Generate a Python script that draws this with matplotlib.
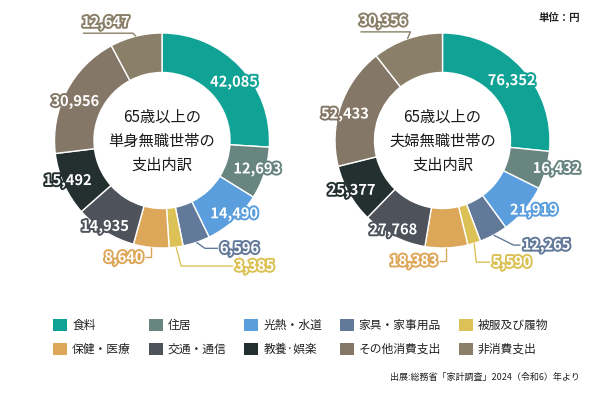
import matplotlib
matplotlib.use('Agg')
import matplotlib.pyplot as plt
import matplotlib.patheffects as pe
from matplotlib.patches import Patch
import numpy as np

plt.rcParams['font.family'] = ['Noto Sans CJK JP', 'DejaVu Sans']

# ---------------- data ----------------
categories = ['食料', '住居', '光熱・水道', '家具・家事用品', '被服及び履物',
              '保健・医療', '交通・通信', '教養·娯楽', 'その他消費支出', '非消費支出']
single_values = [42085, 12693, 14490, 6596, 3385, 8640, 14935, 15492, 30956, 12647]
couple_values = [76352, 16432, 21919, 12265, 5590, 18383, 27768, 25377, 52433, 30356]
single_title = '65歳以上の\n単身無職世帯の\n支出内訳'
couple_title = '65歳以上の\n夫婦無職世帯の\n支出内訳'
unit_label = '単位：円'
source_label = '出展:総務省「家計調査」2024（令和6）年より'

# ---------------- style / layout ----------------
colors = ['#10A395', '#68857F', '#5A9EDE', '#62799A', '#DCC256',
          '#DDA75A', '#4E525B', '#243030', '#857767', '#8A806A']
W, H = 602, 397
R_OUT, R_IN = 107.5, 68.0
LABEL_R = 100.0

# per-chart layout: centre, inside-label nudges, outside leader configs
layouts = [
    dict(center=(162, 140.5),
         nudge={0: (-1, 10), 1: (0, -2), 2: (5, -1), 6: (-4, 1), 7: (-3, -1), 8: (2, 7)},
         outer={3: (8.5, 6, 13), 4: (5, 19, 52), 5: (0, 10, -6), 9: (-3, -3, -50)}),
    dict(center=(442.5, 140.5),
         nudge={0: (-5, 7), 1: (18, 0), 2: (15, 5), 6: (-4, 0), 7: (-4, 0), 8: (-3, 6)},
         outer={3: (20, 10, 7), 4: (2, 19, 14), 5: (0, 13, -7), 9: (3, -7, -50)}),
]

fig = plt.figure(figsize=(W / 100, H / 100), dpi=100)
ax = fig.add_axes([0, 0, 1, 1])


def draw_donut(values, title, lay):
    cx, cy = lay['center']
    ax.pie(values, colors=colors, startangle=-90, counterclock=True,
           radius=R_OUT, center=(cx, cy), frame=True,
           wedgeprops=dict(width=R_OUT - R_IN, edgecolor='white', linewidth=1.0))
    total = float(sum(values))
    cum = np.cumsum([0] + list(values))
    for i, v in enumerate(values):
        t = np.deg2rad((cum[i] + v / 2.0) / total * 360.0)
        col = colors[i]
        txt = f'{v:,}'
        eff = [pe.withStroke(linewidth=2.8, foreground=col)]
        if i in lay['outer']:
            dx, dy, hl = lay['outer'][i]
            x0 = cx + R_OUT * np.sin(t)
            y0 = cy - R_OUT * np.cos(t)
            x1, y1 = x0 + dx, y0 + dy
            x2 = x1 + hl
            ax.plot([x0, x1, x2], [y0, y1, y1], color=col, lw=1.0,
                    solid_capstyle='butt', zorder=3)
            if dy < 0:
                ax.text(min(x1, x2) - 1, y1 - 3, txt, ha='left', va='bottom',
                        fontsize=10.5, fontweight='bold', color='white',
                        path_effects=eff, zorder=4)
            elif hl > 0:
                ax.text(x2 + 2, y1, txt, ha='left', va='center',
                        fontsize=10.5, fontweight='bold', color='white',
                        path_effects=eff, zorder=4)
            else:
                ax.text(x2 - 2, y1, txt, ha='right', va='center',
                        fontsize=10.5, fontweight='bold', color='white',
                        path_effects=eff, zorder=4)
        else:
            nx, ny = lay['nudge'].get(i, (0, 0))
            x = cx + LABEL_R * np.sin(t) + nx
            y = cy - LABEL_R * np.cos(t) + ny
            ax.text(x, y, txt, ha='center', va='center', fontsize=10.5,
                    fontweight='bold', color='white', path_effects=eff, zorder=4)
    ax.text(cx, cy + 1, title, ha='center', va='center', fontsize=11,
            linespacing=1.55, color='#1a1a1a', zorder=4)


draw_donut(single_values, single_title, layouts[0])
draw_donut(couple_values, couple_title, layouts[1])

ax.set_xlim(0, W)
ax.set_ylim(H, 0)
ax.set_aspect('auto')
ax.axis('off')

# unit & source
ax.text(580, 18, unit_label, ha='right', va='center', fontsize=7.5,
        fontweight='bold', color='#222222')
ax.text(580, 377, source_label, ha='right', va='center', fontsize=6.5,
        color='#222222')

# legend (column-major order for 2 rows x 5 columns)
handles = [Patch(facecolor=c, edgecolor='none') for c in colors]
order = [0, 5, 1, 6, 2, 7, 3, 8, 4, 9]
leg = fig.legend([handles[k] for k in order], [categories[k] for k in order],
                 ncol=5, loc='upper left',
                 bbox_to_anchor=(53 / W, 1 - 319 / H),
                 frameon=False, fontsize=8.5, handlelength=1.2, handleheight=1.2,
                 handletextpad=0.42, columnspacing=1.5, labelspacing=0.92,
                 borderpad=0, borderaxespad=0)
for t in leg.get_texts():
    t.set_color('#222222')

fig.savefig('out.png', dpi=100)
